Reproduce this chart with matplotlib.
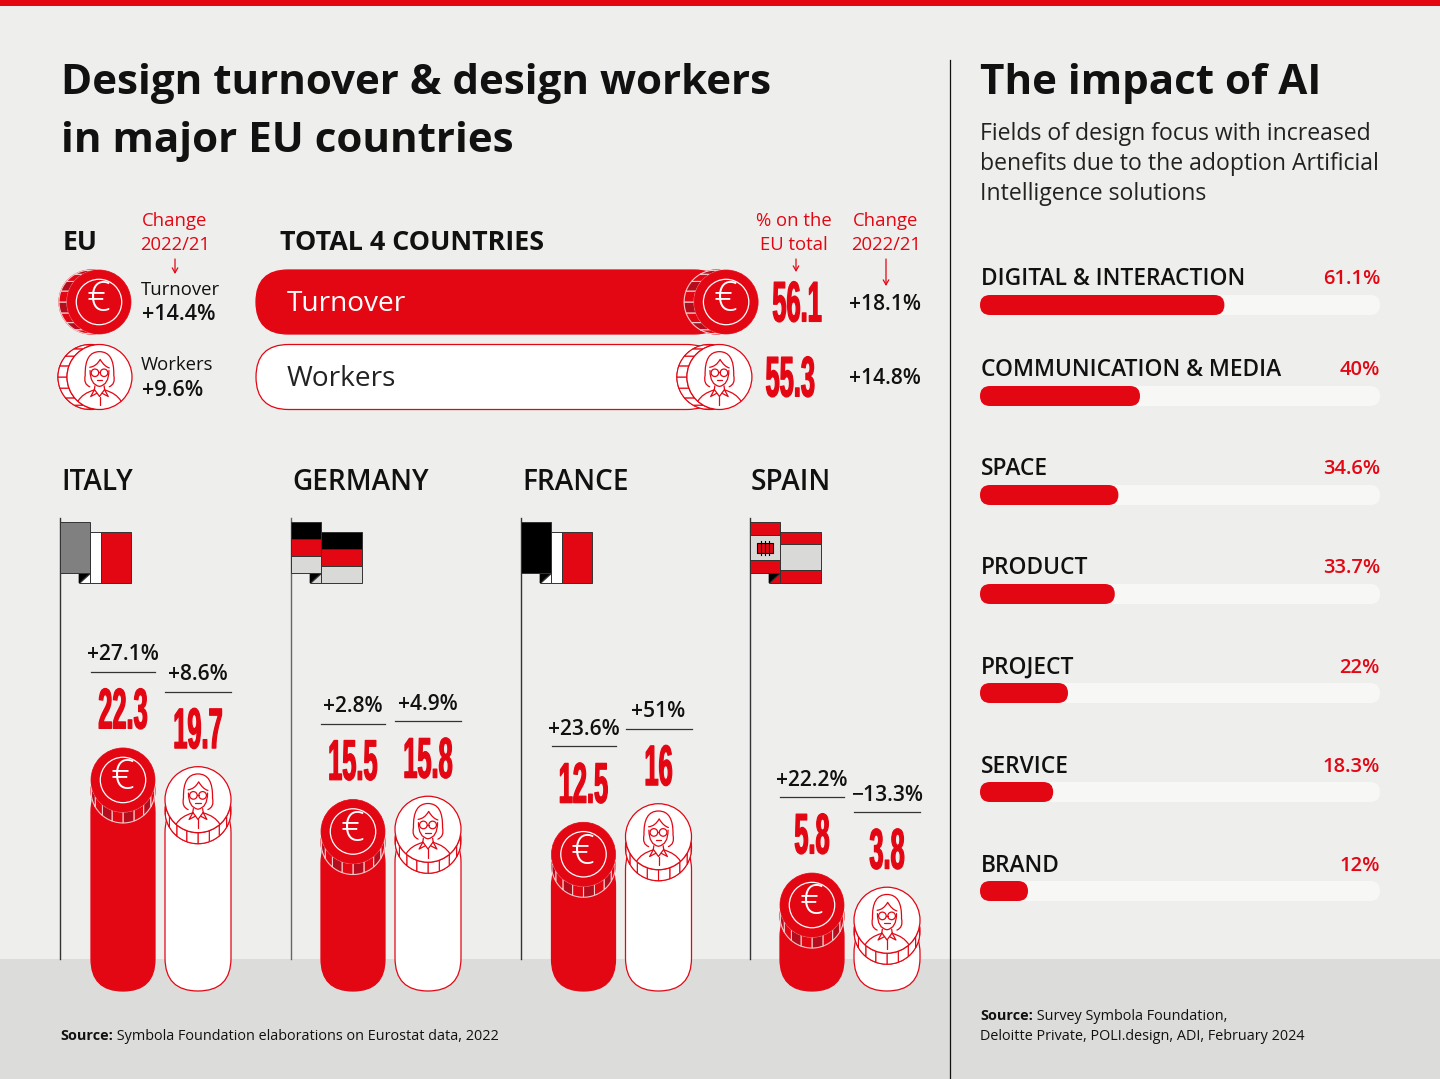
import numpy as np
import matplotlib
matplotlib.use("Agg")
import matplotlib.pyplot as plt
from matplotlib.patches import Circle, Rectangle, FancyBboxPatch, Polygon, PathPatch
from matplotlib.path import Path
from matplotlib.patheffects import AbstractPathEffect
from matplotlib.transforms import Affine2D

COUNTRIES = ["ITALY", "GERMANY", "FRANCE", "SPAIN"]
TURNOVER = [22.3, 15.5, 12.5, 5.8]
WORKERS = [19.7, 15.8, 16, 3.8]
TURNOVER_CHANGE = ["+27.1%", "+2.8%", "+23.6%", "+22.2%"]
WORKERS_CHANGE = ["+8.6%", "+4.9%", "+51%", "\u221213.3%"]
TOTAL_VALUES = [56.1, 55.3]
TOTAL_CHANGE = ["+18.1%", "+14.8%"]
TOTAL_LABELS = ["Turnover", "Workers"]
EU_CHANGE = ["+14.4%", "+9.6%"]
AI_FIELDS = ["DIGITAL & INTERACTION", "COMMUNICATION & MEDIA", "SPACE", "PRODUCT", "PROJECT", "SERVICE", "BRAND"]
AI_SHARES = [61.1, 40, 34.6, 33.7, 22, 18.3, 12]

RED = "#e30613"; DARK = "#b30d1e"; BG = "#eeeeec"; BAND = "#dcdcda"; TRACK = "#f7f7f6"; INK = "#111111"
plt.rcParams["font.family"] = ["Open Sans", "DejaVu Sans"]

fig = plt.figure(figsize=(14.4, 10.79), dpi=100, facecolor=BG)
ax = fig.add_axes([0, 0, 1, 1])
ax.set_xlim(0, 1440); ax.set_ylim(1079, 0); ax.axis("off")

_z = [1]
def nz():
    _z[0] += 1
    return _z[0]

def add(p):
    p.set_zorder(nz())
    ax.add_patch(p)
    return p

def px(s):
    return s * 0.72

class Tall(AbstractPathEffect):
    """Stretch a text run vertically about its centre (for the condensed numerals)."""
    def __init__(self, sy, stroke=0.0):
        super().__init__()
        self.sy, self.stroke = sy, stroke
    def draw_path(self, renderer, gc, tpath, affine, rgbFace=None):
        m = affine.get_matrix().copy()
        e = tpath.get_extents()
        half = (e.y0 + e.y1) / 2 * m[1, 1]
        c = m[1, 2] + half
        m[1, 1] *= self.sy
        m[1, 2] = c - half * self.sy
        g = renderer.new_gc(); g.copy_properties(gc)
        if self.stroke:
            g.set_linewidth(self.stroke); g.set_foreground(rgbFace)
        renderer.draw_path(g, tpath, Affine2D(m), rgbFace)
        g.restore()

def T(x, y, s, size, color=INK, weight="normal", ha="left", va="center", **kw):
    return ax.text(x, y, s, fontsize=px(size), color=color, fontweight=weight, ha=ha, va=va,
                   zorder=nz(), **kw)

def big_num(x, y, s, size=25.4, sy=2.25):
    t = T(x, y + 1.5, s, size, RED, "bold", ha="center", family=["Liberation Sans", "DejaVu Sans"])
    t.set_path_effects([Tall(sy, 0.9)])
    return t

def rim(cx, cy, r, dx, dy, filled, outline):
    phi0 = np.arctan2(dy, dx)
    n = 8
    edges = phi0 + np.deg2rad(np.linspace(-80, 80, n + 1))
    for i in range(n):
        t = np.linspace(edges[i], edges[i + 1], 12)
        a = np.c_[cx + r * np.cos(t), cy + r * np.sin(t)]
        b = a[::-1] + [dx, dy]
        if filled:
            fc = DARK if i % 2 == 1 else RED
        else:
            fc = "white"
        add(Polygon(np.r_[a, b], closed=True, fc=fc, ec=outline, lw=0.8))

def woman(cx, cy, r, lw=0.9):
    def P(pts, codes):
        v = np.array(pts, float) * r + [cx, cy]
        add(PathPatch(Path(v, codes), fc="none", ec=RED, lw=lw, capstyle="round", joinstyle="round"))
    M, L, C = Path.MOVETO, Path.LINETO, Path.CURVE3
    # hair
    P([(-.30, .30), (-.50, .22), (-.44, -.05), (-.46, -.78), (0, -.78), (.46, -.78), (.44, -.05), (.50, .22), (.30, .30)],
      [M, C, C, C, C, C, C, C, C])
    # face and fringe
    P([(-.30, -.30), (-.10, -.32), (.02, -.54), (.15, -.32), (.30, -.28)], [M, C, C, C, C])
    P([(-.29, -.2), (-.29, .24), (0, .29), (.29, .24), (.29, -.2)], [M, C, C, C, C])
    # glasses
    for sgn in (-1, 1):
        add(Circle((cx + sgn * .14 * r, cy - .13 * r), .115 * r, fc="none", ec=RED, lw=lw))
    P([(-.03, -.14), (.03, -.14)], [M, L])
    P([(-.08, .10), (.08, .10)], [M, L])
    # shoulders + collar
    P([(-.66, .74), (-.52, .50), (-.16, .40), (-.14, .27)], [M, C, C, L])
    P([(.66, .74), (.52, .50), (.16, .40), (.14, .27)], [M, C, C, L])
    P([(-.16, .38), (0, .60), (.16, .38)], [M, L, L])
    P([(-.16, .40), (-.27, .60), (-.08, .50)], [M, L, L])
    P([(.16, .40), (.27, .60), (.08, .50)], [M, L, L])
    P([(0, .60), (0, .86)], [M, L])

def coin(cx, cy, r, dx, dy, kind):
    """kind 0 = euro/turnover, kind 1 = person/workers."""
    if kind == 0:
        add(Circle((cx + dx, cy + dy), r, fc=RED, ec=RED, lw=0.8))
        rim(cx, cy, r, dx, dy, True, "#f6c9c9")
        add(Circle((cx, cy), r, fc=RED, ec=RED, lw=0.5))
        add(Circle((cx, cy), r * .71, fc="none", ec="white", lw=0.9))
        T(cx - 1, cy - 2, "\u20ac", r * 1.3, "white", "light", ha="center", va="center")
    else:
        add(Circle((cx + dx, cy + dy), r, fc="white", ec=RED, lw=0.9))
        rim(cx, cy, r, dx, dy, False, RED)
        add(Circle((cx, cy), r, fc="white", ec=RED, lw=0.9))
        woman(cx, cy, r)

def arrow(x, y0, y1):
    ax.annotate("", xy=(x, y1), xytext=(x, y0), zorder=nz(),
                arrowprops=dict(arrowstyle="->,head_length=0.35,head_width=0.2", color=RED, lw=0.9,
                                shrinkA=0, shrinkB=0))

def src(x, y, rest):
    b = T(x, y, "Source:", 14.4, INK, "bold")
    ax.annotate(" " + rest, xy=(1, 0.5), xycoords=b, va="center", ha="left", fontsize=px(14.4),
                color=INK, zorder=nz())

# ---- page furniture
add(Rectangle((0, 959), 1440, 120, fc=BAND, ec="none"))
add(Rectangle((0, 0), 1440, 6, fc=RED, ec="none"))
ax.plot([950, 950], [60, 1079], color=INK, lw=0.9, zorder=nz())

# ---- titles
T(61, 84, "Design turnover & design workers", 42.1, INK, "bold")
T(61, 142, "in major EU countries", 42.1, INK, "bold")
T(980, 84, "The impact of AI", 42.1, INK, "bold")
for y, s in zip([134, 164, 194], ["Fields of design focus with increased",
                                  "benefits due to the adoption Artificial",
                                  "Intelligence solutions"]):
    T(980, y, s, 23, "#222222")

# ---- EU block
T(63, 243, "EU", 26.5, INK, "bold")
T(175, 221, "Change", 18.5, RED, ha="center")
T(175, 245, "2022/21", 18.5, RED, ha="center")
arrow(175, 259, 274)
coin(99, 302, 32, -8, 0, 0)
coin(99.5, 377, 32.5, -9, 0, 1)
T(141, 290, TOTAL_LABELS[0], 18.5)
T(142, 315, EU_CHANGE[0], 21.5, INK, "semibold")
T(141, 365, TOTAL_LABELS[1], 18.5)
T(142, 390, EU_CHANGE[1], 21.5, INK, "semibold")

# ---- Total block
T(280, 243, "TOTAL 4 COUNTRIES", 26.9, INK, "bold")
T(794, 221, "% on the", 18.5, RED, ha="center")
T(794, 245, "EU total", 18.5, RED, ha="center")
T(886, 221, "Change", 18.5, RED, ha="center")
T(886, 245, "2022/21", 18.5, RED, ha="center")
arrow(796, 259, 272)
arrow(886, 259, 286)
TOTAL_SCALE = 8.38
x0 = 256
for i, (v, lab, ch, cy, r) in enumerate(zip(TOTAL_VALUES, TOTAL_LABELS, TOTAL_CHANGE, [302, 377], [32, 32.5])):
    w = v * TOTAL_SCALE
    add(FancyBboxPatch((x0, cy - r), w, 2 * r, boxstyle=f"round,pad=0,rounding_size={r}",
                       fc=RED if i == 0 else "white", ec=RED, lw=0.9))
    T(287, cy + 2, lab, 28, "white" if i == 0 else "#222222")
    coin(x0 + w, cy, r, -10, 0, i)
    big_num(x0 + w + 71, cy, f"{v:g}")
    T(849, cy + 2, ch, 21, INK, "semibold")

# ---- Country columns
POLE_X = [60, 291, 521, 750]
CENTERS = [(123, 198), (353, 428), (583.5, 658.5), (812, 887)]
for cname, x_ in zip(COUNTRIES, POLE_X):
    T(x_ + 1, 482, cname, 28, INK, "semibold")

def flag(x, kind):
    ax.plot([x, x], [518, 959], color="#333333" if kind != 1 else "#666666", lw=1.0, zorder=nz())
    fx0, fx1, fy0, fy1 = x, x + 30, 522, 573
    bx0, by0, by1 = x + 19, 532, 583
    def band(x_, y_, w, h, c):
        add(Rectangle((x_, y_), w, h, fc=c, ec="#333333", lw=0.7))
    def fold(c):
        add(Polygon([(bx0, by1), (fx1, by1), (fx1, fy1)], fc=c, ec="#333333", lw=0.7))
        add(Polygon([(bx0, by1), (fx1, fy1), (bx0, fy1)], fc="black", ec="black", lw=0.5))
    gray = "#d9d9d7"
    if kind == 0:      # Italy
        band(fx1, by0, 11, 51, "white"); band(fx1 + 11, by0, 30, 51, RED)
        fold("white")
        band(fx0, fy0, 30, 51, "#808080")
    elif kind == 1:    # Germany
        for j, c in enumerate(["black", RED, gray]):
            band(fx1, by0 + j * 17, 41, 17, c)
        fold(gray)
        for j, c in enumerate(["black", RED, gray]):
            band(fx0, fy0 + j * 17, 30, 17, c)
    elif kind == 2:    # France
        band(fx1, by0, 11, 51, "white"); band(fx1 + 11, by0, 30, 51, RED)
        fold("white")
        band(fx0, fy0, 30, 51, "black")
    else:              # Spain
        for y_, h, c in [(by0, 12, RED), (by0 + 12, 26, gray), (by0 + 38, 13, RED)]:
            band(fx1, y_, 41, h, c)
        fold(RED)
        for y_, h, c in [(fy0, 13, RED), (fy0 + 13, 25, gray), (fy0 + 38, 13, RED)]:
            band(fx0, y_, 30, h, c)
        add(Rectangle((x + 7, fy0 + 21), 16, 10, fc=RED, ec="black", lw=0.8))
        for k in (11, 15, 19):
            ax.plot([x + k, x + k], [fy0 + 19, fy0 + 33], color="black", lw=0.8, zorder=nz())

for k, x in enumerate(POLE_X):
    flag(x, k)

BASE_Y, BAR_SCALE, BAR_BOTTOM = 949, 7.58, 991
# the reference draws France's worker stack a little below its labelled value
NUDGE = {(2, 1): 9}

def column(cx, r, v, ch, kind, nudge):
    cy = BASE_Y - v * BAR_SCALE + nudge
    add(FancyBboxPatch((cx - r, cy), 2 * r, BAR_BOTTOM - cy, boxstyle=f"round,pad=0,rounding_size={r}",
                       fc=RED if kind == 0 else "white", ec=RED, lw=0.9))
    coin(cx, cy, r, 0, 11, kind)
    T(cx, cy - 125, ch, 21, INK, "semibold", ha="center")
    ax.plot([cx - r, cx + r], [cy - 108, cy - 108], color="#333333", lw=0.9, zorder=nz())
    big_num(cx, cy - 71, f"{v:g}")

for i, (c0, c1) in enumerate(CENTERS):
    column(c0, 32, TURNOVER[i], TURNOVER_CHANGE[i], 0, NUDGE.get((i, 0), 0))
    column(c1, 33, WORKERS[i], WORKERS_CHANGE[i], 1, NUDGE.get((i, 1), 0))

# ---- AI panel
TRACK_X, TRACK_W, TRACK_H = 980, 400, 20
LABEL_Y = [279, 370, 469, 568, 668, 767, 866]
BAR_Y = [305, 396, 495, 594, 693, 792, 891]
for name, share, ly, by in zip(AI_FIELDS, AI_SHARES, LABEL_Y, BAR_Y):
    T(981, ly, name, 22.7, INK, "semibold")
    T(1380, ly, f"{share:g}%", 20.2, RED, "semibold", ha="right")
    add(FancyBboxPatch((TRACK_X, by - TRACK_H / 2), TRACK_W, TRACK_H,
                       boxstyle="round,pad=0,rounding_size=10", fc=TRACK, ec="none"))
    add(FancyBboxPatch((TRACK_X, by - TRACK_H / 2), TRACK_W * share / 100, TRACK_H,
                       boxstyle="round,pad=0,rounding_size=10", fc=RED, ec="none"))

# ---- sources
src(60, 1036, "Symbola Foundation elaborations on Eurostat data, 2022")
src(980, 1016, "Survey Symbola Foundation,")
T(980, 1036, "Deloitte Private, POLI.design, ADI, February 2024", 14.4)

fig.savefig("out.png", dpi=100, facecolor=BG)
